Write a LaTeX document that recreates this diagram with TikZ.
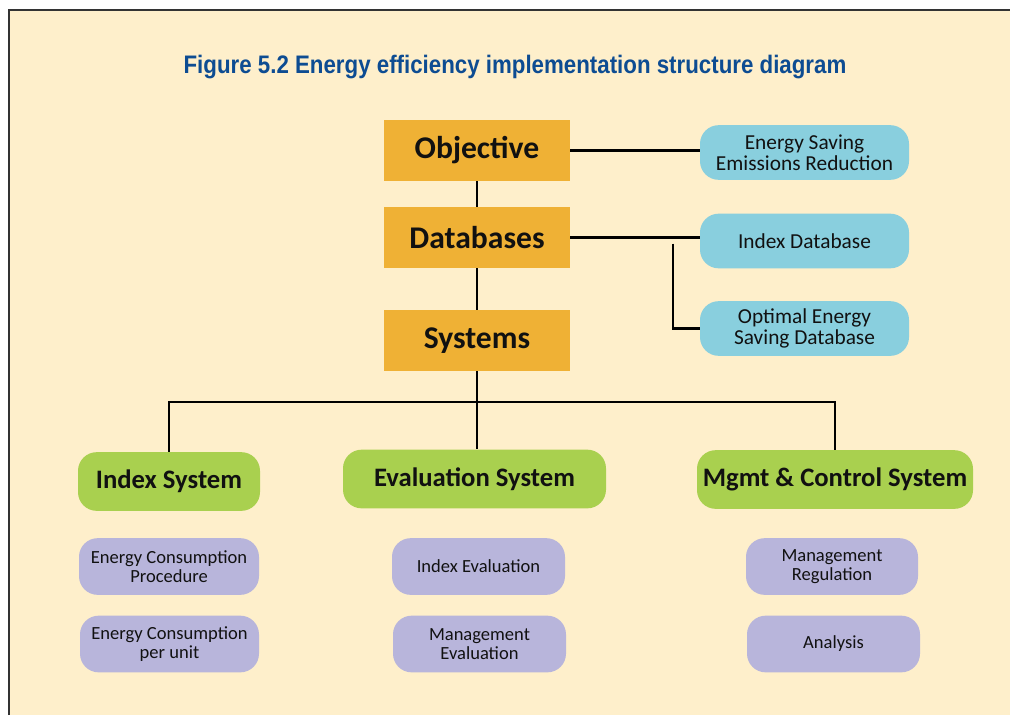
\documentclass[tikz,border=0pt]{standalone}
\usepackage{fontspec}
\usepackage{graphicx}
\setmainfont{Carlito}
\newfontfamily\titlefont[FakeStretch=0.88]{Liberation Sans}
\definecolor{bgC}{HTML}{FEEFCB}
\definecolor{orangeC}{HTML}{EFB135}
\definecolor{blueC}{HTML}{89CFDE}
\definecolor{greenC}{HTML}{A9D04F}
\definecolor{purpleC}{HTML}{B8B5DB}
\definecolor{titleC}{HTML}{0D4C92}
\definecolor{txtC}{HTML}{111111}
\definecolor{frameC}{HTML}{333333}
\tikzset{
  mainbox/.style={fill=orangeC, minimum width=139.5pt, minimum height=45.75pt, inner sep=0pt,
    font=\fontsize{23.7}{27}\selectfont\bfseries, text=txtC},
  dbbox/.style={fill=blueC, rounded corners=14pt, minimum width=156.75pt, minimum height=41pt, inner sep=0pt,
    align=center, font=\fontsize{16}{15.5}\selectfont, text=txtC},
  sysbox/.style={fill=greenC, rounded corners=14pt, minimum height=44pt, inner sep=0pt,
    font=\fontsize{20}{22}\selectfont\bfseries, text=txtC},
  subbox/.style={fill=purpleC, rounded corners=14pt, minimum height=42.5pt, inner sep=0pt,
    align=center, font=\fontsize{13.9}{13.8}\selectfont, text=txtC},
  conn/.style={draw=black, line width=2.2pt}
}
\begin{document}
\begin{tikzpicture}[x=0.75pt, y=-0.75pt]
\useasboundingbox (0,0) rectangle (1010,715);
\fill[white] (0,0) rectangle (1010,715);
\fill[bgC] (9,10) rectangle (1010,715);
\draw[frameC, line width=1.5pt] (9,715) -- (9,10) -- (1010,10);

\node[text=titleC, font=\titlefont\fontsize{19}{22}\selectfont\bfseries] (title) at (515,67)
  {Figure 5.2 Energy efficiency implementation structure diagram};

\node[mainbox] (obj) at (477,150.5) {Objective};
\node[mainbox] (db)  at (477,237.5) {Databases};
\node[mainbox] (sys) at (477,340.5) {Systems};

\node[dbbox] (es)   at (804.5,152.5) {Energy Saving\\Emissions Reduction};
\node[dbbox] (idb)  at (804.5,241)   {Index Database};
\node[dbbox] (oesd) at (804.5,328.5) {Optimal Energy\\Saving Database};

\node[sysbox, minimum width=136.5pt] (idx)  at (169,481.5) {Index System};
\node[sysbox, minimum width=197.25pt] (eval) at (474.5,479) {Evaluation System};
\node[sysbox, minimum width=207pt] (mgmt) at (835,479.5) {Mgmt \& Control System};

\node[subbox, minimum width=135pt]    (p1) at (169,566.5) {Energy Consumption\\Procedure};
\node[subbox, minimum width=134.25pt] (p2) at (169.5,644) {Energy Consumption\\per unit};
\node[subbox, minimum width=129.75pt] (p3) at (478.5,566.5) {Index Evaluation};
\node[subbox, minimum width=129.75pt] (p4) at (479.5,644) {Management\\Evaluation};
\node[subbox, minimum width=129pt]    (p5) at (832,566.5) {Management\\Regulation};
\node[subbox, minimum width=129.75pt] (p6) at (833.5,644) {Analysis};

\draw[conn] (obj.south) -- (db.north);
\draw[conn] (db.south) -- (sys.north);
\draw[conn] (obj.east) -- (obj.east -| es.west);
\draw[conn] (db.east) -- (db.east -| idb.west);
\coordinate (br) at (673,243.5);
\draw[conn] (br) |- (oesd.west);
\draw[conn] (sys.south) -- (sys.south |- eval.north);
\coordinate (bus) at (477,402);
\draw[conn] (idx.north) |- (bus) -| (mgmt.north);
\end{tikzpicture}
\end{document}
